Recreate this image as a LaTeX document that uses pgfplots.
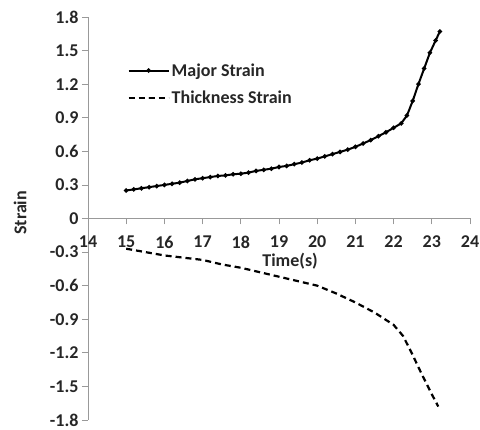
\documentclass[border=0pt]{standalone}
\usepackage{pgfplots}
\pgfplotsset{compat=1.18}
\usepackage{fontspec}
\setmainfont{Carlito}
\pgfplotstableread{
t v
15.0 0.25
15.2 0.26
15.4 0.27
15.6 0.28
15.8 0.29
16.0 0.30
16.2 0.31
16.4 0.32
16.6 0.335
16.8 0.35
17.0 0.36
17.2 0.37
17.4 0.38
17.6 0.385
17.8 0.395
18.0 0.40
18.2 0.41
18.4 0.425
18.6 0.435
18.8 0.445
19.0 0.46
19.2 0.47
19.4 0.485
19.6 0.50
19.8 0.52
20.0 0.535
20.2 0.555
20.4 0.575
20.6 0.595
20.8 0.615
21.0 0.64
21.2 0.67
21.4 0.70
21.6 0.735
21.8 0.77
22.0 0.81
22.2 0.85
22.35 0.92
22.5 1.05
22.65 1.20
22.8 1.34
22.95 1.48
23.1 1.59
23.21 1.67
}\major
\pgfplotstableread{
t v
15.0 -0.27
15.5 -0.30
16.0 -0.33
16.5 -0.35
17.0 -0.37
17.5 -0.41
18.0 -0.44
18.5 -0.48
19.0 -0.52
19.5 -0.56
20.0 -0.60
20.5 -0.67
21.0 -0.75
21.5 -0.84
22.0 -0.95
22.25 -1.05
22.5 -1.22
22.75 -1.40
23.0 -1.57
23.17 -1.68
}\thick
\begin{document}
\begin{tikzpicture}
\begin{axis}[
  scale only axis, width=382pt, height=403pt,
  xmin=14, xmax=24, ymin=-1.8, ymax=1.8,
  axis x line=middle, axis y line=left,
  axis line style={-, draw=gray!80},
  hide obscured x ticks=false, hide obscured y ticks=false,
  xtick={14,15,...,24},
  xticklabels={14,15,16,17,18,19,20,21,22,23,24},
  ytick={-1.8,-1.5,-1.2,-0.9,-0.6,-0.3,0,0.3,0.6,0.9,1.2,1.5,1.8},
  yticklabels={-1.8,-1.5,-1.2,-0.9,-0.6,-0.3,0,0.3,0.6,0.9,1.2,1.5,1.8},
  tick align=outside, major tick length=6pt,
  tick style={draw=gray!80, line width=0.8pt},
  ticklabel style={font=\fontsize{18}{21}\selectfont\bfseries, text=black!85},
  xticklabel style={anchor=north, yshift=-8pt},
  yticklabel style={anchor=east, xshift=0pt},
  xlabel={Time(s)}, ylabel={Strain},
  label style={font=\fontsize{18}{21}\selectfont\bfseries, text=black!85},
  xlabel style={at={(axis description cs:0.529,0.393)}, anchor=center},
  ylabel style={at={(axis description cs:-0.178,0.514)}, anchor=center, rotate=0},
  legend style={at={(axis description cs:0.095,0.895)}, anchor=north west,
    draw=none, fill=none, font=\fontsize{18}{21}\selectfont\bfseries,
    text=black!85, row sep=9pt, cells={anchor=west}},
  legend image code/.code={\draw[mark repeat=2, mark phase=2, #1] plot coordinates {(0pt,0pt) (20pt,0pt) (40pt,0pt)};},
]
\addplot[black, line width=2pt, mark=*, mark size=1.1pt] table[x=t,y=v]{\major};
\addlegendentry{Major Strain}
\addplot[black, line width=2.2pt, dash pattern=on 6pt off 4pt] table[x=t,y=v]{\thick};
\addlegendentry{Thickness Strain}
\coordinate (bl) at (rel axis cs:0,0);
\coordinate (tr) at (rel axis cs:1,1);
\end{axis}
\pgfresetboundingbox
\path ([shift={(-88pt,-10pt)}]bl) rectangle ([shift={(10pt,17pt)}]tr);
\end{tikzpicture}
\end{document}
